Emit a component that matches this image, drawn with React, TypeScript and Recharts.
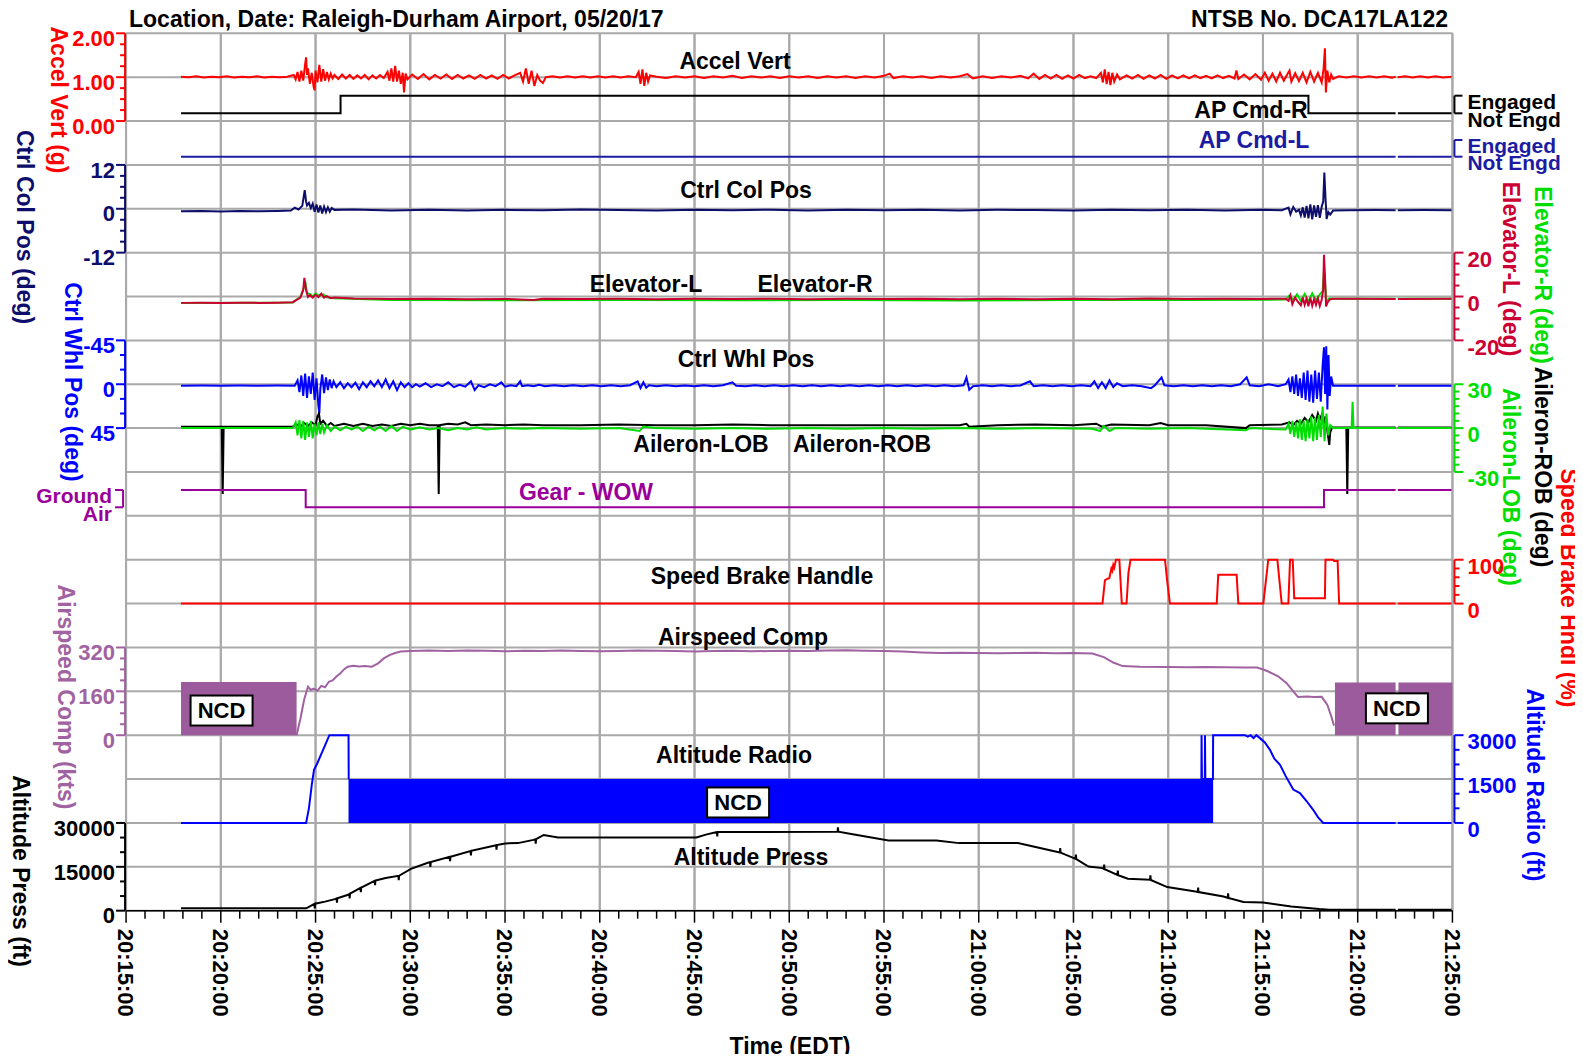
import React from "react";
import {
  ComposedChart,
  Line,
  XAxis,
  YAxis,
  CartesianGrid,
  ReferenceLine,
  ReferenceArea,
  ReferenceDot,
} from "recharts";

const FONT = '"Liberation Sans", Arial, Helvetica, sans-serif';
const ROWS = 20;
const TXT = 23;

const RED = "#ff0000";
const NAVY = "#0d0d6b";
const APL = "#1c1ca3";
const CRIMSON = "#cc0033";
const GREEN = "#00dd00";
const BLUE = "#0000ff";
const PURPLE = "#990099";
const MAUVE = "#a062a0";
const MAUVE_FILL = "#9c5b9c";

// time axis: minutes after 20:15:00 EDT
const timeLabels = [
  "20:15:00", "20:20:00", "20:25:00", "20:30:00", "20:35:00", "20:40:00", "20:45:00", "20:50:00",
  "20:55:00", "21:00:00", "21:05:00", "21:10:00", "21:15:00", "21:20:00", "21:25:00",
];

// [minute, value]
const accelVert = [
  [2.9, 1.01], [3.3, 1.0], [3.7, 1.02], [4.1, 0.99], [4.5, 1.01], [4.9, 1.0], [5.3, 1.02], [5.7, 0.99], [6.1, 1.01],
  [6.5, 1.0], [6.9, 1.02], [7.3, 0.99], [7.7, 1.01], [8.1, 1.0], [8.5, 1.01], [8.85, 1.05], [8.95, 0.95], [9.05, 1.12],
  [9.15, 0.9], [9.25, 1.15], [9.35, 0.92], [9.45, 1.3], [9.5, 1.45], [9.55, 1.05], [9.6, 1.2], [9.7, 0.85], [9.8, 1.1],
  [9.9, 0.78], [9.95, 0.7], [10.0, 1.15], [10.1, 0.88], [10.2, 1.28], [10.3, 0.9], [10.4, 1.18], [10.5, 0.92],
  [10.6, 1.12], [10.7, 0.95], [10.8, 1.08], [10.9, 0.97], [11.0, 1.05], [11.2, 0.96], [11.4, 1.06], [11.6, 0.97],
  [11.8, 1.05], [12.0, 0.96], [12.2, 1.04], [12.4, 0.97], [12.6, 1.05], [12.8, 0.95], [13.0, 1.04], [13.2, 0.97],
  [13.4, 1.05], [13.6, 0.98], [13.8, 1.12], [13.9, 0.92], [14.0, 1.2], [14.1, 0.9], [14.2, 1.26], [14.3, 0.9],
  [14.4, 1.15], [14.5, 0.85], [14.6, 1.1], [14.67, 0.65], [14.75, 1.08], [14.85, 0.95], [15.1, 1.06], [15.4, 0.96],
  [15.7, 1.07], [16.0, 0.95], [16.3, 1.05], [16.6, 0.97], [16.9, 1.06], [17.2, 0.96], [17.5, 1.05], [17.8, 0.97],
  [18.1, 1.04], [18.4, 0.96], [18.7, 1.05], [19.0, 0.97], [19.3, 1.04], [19.6, 0.96], [19.9, 1.05], [20.2, 0.97],
  [20.5, 1.04], [20.8, 1.1], [20.95, 0.9], [21.1, 1.2], [21.25, 0.85], [21.4, 1.15], [21.55, 0.8], [21.7, 1.05],
  [21.85, 0.92], [22.0, 0.87], [22.15, 1.0], [22.5, 1.02], [22.9, 0.99], [23.3, 1.02], [23.7, 0.99], [24.1, 1.02],
  [24.5, 0.99], [24.9, 1.02], [25.3, 0.99], [25.7, 1.02], [26.1, 0.99], [26.5, 1.02], [26.9, 1.0], [27.05, 1.12],
  [27.15, 0.85], [27.25, 1.18], [27.35, 0.8], [27.45, 1.1], [27.55, 0.9], [27.65, 1.04], [28.0, 1.01], [28.5, 0.98],
  [29.0, 1.02], [29.5, 0.99], [30.0, 1.02], [30.5, 0.98], [31.0, 1.02], [31.5, 0.99], [32.0, 1.03], [32.5, 0.98],
  [33.0, 1.02], [33.5, 0.99], [34.0, 1.02], [34.5, 0.98], [35.0, 1.02], [35.5, 0.99], [36.0, 1.02], [36.5, 0.98],
  [37.0, 1.02], [37.5, 0.99], [38.0, 1.02], [38.5, 0.98], [39.0, 1.02], [39.5, 0.99], [40.0, 1.03], [40.3, 1.08],
  [40.5, 0.98], [41.0, 1.02], [41.5, 0.99], [42.0, 1.02], [42.5, 0.98], [43.0, 1.02], [43.5, 0.99], [44.0, 1.02],
  [44.4, 1.07], [44.7, 0.97], [45.2, 1.02], [45.7, 0.98], [46.2, 1.02], [46.7, 0.99], [47.2, 1.03], [47.6, 0.97],
  [47.9, 1.08], [48.2, 0.96], [48.5, 1.05], [48.8, 0.97], [49.1, 1.05], [49.4, 0.96], [49.7, 1.04], [50.0, 0.97],
  [50.3, 1.05], [50.6, 0.98], [50.9, 1.02], [51.2, 0.98], [51.45, 1.1], [51.55, 0.88], [51.65, 1.18], [51.75, 0.84],
  [51.85, 1.12], [51.95, 0.82], [52.05, 1.1], [52.15, 0.9], [52.3, 1.06], [52.45, 0.95], [52.8, 1.04], [53.1, 0.97],
  [53.4, 1.05], [53.7, 0.96], [54.0, 1.04], [54.3, 0.97], [54.6, 1.05], [54.9, 0.96], [55.2, 1.04], [55.5, 0.97],
  [55.8, 1.04], [56.1, 0.97], [56.4, 1.04], [56.7, 0.98], [57.0, 1.03], [57.3, 0.97], [57.6, 1.04], [57.9, 0.98],
  [58.2, 1.03], [58.5, 0.97], [58.6, 1.15], [58.7, 0.96], [59.0, 1.06], [59.3, 0.95], [59.6, 1.07], [59.9, 0.94],
  [60.1, 1.1], [60.3, 0.92], [60.5, 1.08], [60.7, 0.9], [60.9, 1.1], [61.1, 0.92], [61.3, 1.08], [61.4, 1.15],
  [61.5, 0.9], [61.7, 1.09], [61.9, 0.91], [62.1, 1.1], [62.3, 0.88], [62.5, 1.12], [62.7, 0.9], [62.9, 1.1],
  [63.1, 0.88], [63.2, 1.2], [63.27, 1.66], [63.32, 0.65], [63.4, 1.15], [63.5, 0.88], [63.6, 1.06], [63.7, 0.96],
  [64.0, 1.02], [64.4, 0.99], [64.8, 1.02], [65.2, 0.99], [65.6, 1.02], [66.0, 0.99], [66.4, 1.02], [66.8, 0.99],
  [67.0, 1.01], [67.05, null], [67.12, 1.0], [67.5, 1.02], [67.9, 0.99], [68.3, 1.02], [68.7, 0.99], [69.1, 1.02],
  [69.5, 0.99], [69.95, 1.01],
];

// 1 = Engaged, 0 = Not Engd
const apCmdR = [[2.9, 0], [11.32, 1], [62.4, 0], [67.0, 0], [67.05, null], [67.12, 0], [69.95, 0]];
const apCmdL = [[2.9, 0], [67.0, 0], [67.05, null], [67.12, 0], [69.95, 0]];

const ctrlColPos = [
  [2.9, -0.7], [4, -0.6], [5, -0.75], [6, -0.6], [7, -0.7], [8, -0.6], [8.7, -0.5], [8.9, 0.3], [9.1, -0.2], [9.3, 0.8],
  [9.38, 3.5], [9.43, 5.1], [9.5, 2.0], [9.55, 0.9], [9.65, 1.6], [9.75, 0.2], [9.85, 1.4], [9.95, -0.8], [10.05, 1.2],
  [10.15, -1.0], [10.25, 0.9], [10.35, -1.3], [10.45, 0.6], [10.55, -0.9], [10.65, 0.4], [10.75, -0.8], [10.85, 0.2],
  [11.0, -0.3], [12, -0.2], [14, -0.45], [16, -0.3], [18, -0.5], [20, -0.3], [22, -0.4], [24, -0.2], [26, -0.35],
  [28, -0.5], [30, -0.3], [32, -0.4], [34, -0.25], [36, -0.45], [38, -0.3], [40, -0.4], [42, -0.3], [44, -0.45],
  [46, -0.3], [48, -0.35], [50, -0.45], [52, -0.3], [54, -0.4], [56, -0.3], [58, -0.45], [60, -0.3], [61.0, -0.4],
  [61.35, 0.3], [61.45, -1.5], [61.6, 0.5], [61.75, -0.8], [61.9, -0.3], [62.0, -1.8], [62.1, 0.4], [62.2, -2.4],
  [62.3, 0.8], [62.4, -2.6], [62.5, 1.2], [62.6, -2.9], [62.7, 0.9], [62.8, -2.2], [62.9, 1.0], [63.0, -2.5],
  [63.1, 0.6], [63.18, 2.0], [63.24, 9.9], [63.3, 3.0], [63.36, -2.8], [63.45, -0.9], [63.55, -1.6], [63.7, -0.5],
  [64.5, -0.4], [66, -0.35], [67.0, -0.4], [67.05, null], [67.12, -0.4], [68.5, -0.35], [69.95, -0.4],
];

const elevatorL = [
  [2.9, -2.9], [4, -2.8], [5, -2.9], [6, -2.8], [7, -2.9], [8, -2.8], [8.8, -2.6], [9.0, -1.5], [9.2, -0.5],
  [9.35, 3.0], [9.41, 8.5], [9.5, 3.0], [9.6, -0.2], [9.7, 0.6], [9.85, -0.5], [10.0, 0.8], [10.15, -0.3], [10.3, 1.3],
  [10.45, -0.5], [10.6, 0.2], [10.8, -0.8], [11.0, -0.5], [12, -0.9], [14, -1.1], [16, -1.0], [18, -1.3], [20, -1.1],
  [21.5, -1.6], [22, -1.0], [24, -1.1], [26, -1.0], [28, -1.2], [30, -1.0], [32, -1.1], [34, -1.0], [36, -1.2],
  [38, -1.0], [40, -1.1], [42, -1.0], [44, -1.3], [46, -1.0], [48, -1.2], [50, -1.0], [52, -1.2], [54, -0.9],
  [56, -1.1], [58, -1.0], [60, -1.1], [61.2, -1.0], [61.35, -2.0], [61.45, 0.5], [61.55, -3.5], [61.7, -0.5],
  [61.85, -2.5], [62.0, -4.0], [62.1, -0.5], [62.2, -3.8], [62.3, -1.0], [62.4, -4.5], [62.5, -0.5], [62.6, -4.2],
  [62.7, -1.2], [62.8, -3.8], [62.9, -0.8], [63.0, -4.3], [63.1, -1.5], [63.18, 3.0], [63.22, 19], [63.27, 10],
  [63.33, -4.5], [63.42, -2.5], [63.55, -1.2], [63.7, -1.0], [65, -1.0], [67.0, -1.1], [67.05, null], [67.12, -1.1],
  [69.95, -1.0],
];

const elevatorR = [
  [2.9, -3.0], [8.8, -2.7], [9.0, -1.4], [9.2, -0.3], [9.38, 4.0], [9.45, 7.0], [9.55, 1.5], [9.7, 1.2], [9.85, 0.0],
  [10.0, 1.4], [10.2, 0.3], [10.4, 1.0], [10.6, -0.3], [11, -0.8], [14, -1.6], [20, -1.7], [26, -1.6], [32, -1.7],
  [38, -1.6], [44, -1.8], [50, -1.6], [56, -1.6], [61.2, -1.4], [61.4, 0.5], [61.6, -1.5], [61.8, 1.0], [62.0, -2.0],
  [62.2, 1.2], [62.4, -2.5], [62.6, 1.5], [62.8, -1.8], [63.0, 1.0], [63.15, 2.5], [63.22, 12], [63.28, 6],
  [63.34, -2], [63.5, -0.9], [63.7, -1.0], [67.0, -1.0], [67.05, null], [67.12, -1.0], [69.95, -1.0],
];

const ctrlWhlPos = [
  [2.9, 1.5], [4, 1.4], [5, 1.6], [6, 1.4], [7, 1.5], [8, 1.4], [8.9, 1.5], [9.05, -4], [9.15, 8], [9.25, -9],
  [9.35, 12], [9.45, -11], [9.55, 14], [9.65, -8], [9.75, 10], [9.85, -12], [9.95, 16], [10.05, -6], [10.15, 22],
  [10.2, 29.7], [10.25, 5], [10.35, -10], [10.45, 9], [10.55, -7], [10.65, 6], [10.75, -5], [10.85, 4], [10.95, -3],
  [11.1, 3], [11.3, -2], [11.5, 4], [11.7, -1], [11.9, 3], [12.1, -1.5], [12.3, 5], [12.5, -2], [12.7, 3], [12.9, -3],
  [13.1, 2], [13.3, -4], [13.5, 3], [13.7, -5], [13.9, 4], [14.1, -3], [14.3, 6], [14.5, -2], [14.7, 3], [14.9, -1],
  [15.1, 3], [15.3, 0], [15.5, 2.5], [15.8, -1], [16.1, 3], [16.4, 0], [16.7, 2], [17.0, -2], [17.3, 3], [17.6, 0.5],
  [17.9, 2.5], [18.2, -3], [18.4, 6], [18.6, 1], [18.9, 3], [19.2, 0], [19.5, 2], [19.8, -2], [20.0, 2.5], [20.3, 1],
  [20.6, 2], [20.8, -3], [20.9, 2], [21.2, 1], [21.5, 2], [21.8, 0.5], [22.1, 2], [22.6, 1], [23.1, 2], [23.6, 1],
  [24.1, 2], [24.6, 1], [25.1, 2], [25.6, 1], [26.1, 2], [26.6, 1], [27.0, -3], [27.15, 4], [27.3, -2], [27.45, 3.5],
  [27.6, 1], [28.0, 2], [28.5, 1], [29.0, 2], [29.5, 1.2], [30.0, 2], [30.5, 1], [31.0, 2], [31.5, 1], [32.0, -2],
  [32.2, 1.5], [32.7, 2], [33.2, 1], [33.7, 2], [34.2, 1], [34.7, 2], [35.2, 1], [35.7, 2], [36.2, 1], [36.7, 2],
  [37.2, 1], [37.7, 2], [38.2, 1], [38.7, 2], [39.2, 1], [39.7, 2], [40.2, 1], [40.7, 2], [41.2, 1], [41.7, 2],
  [42.2, 1], [42.7, 2], [43.2, 1], [43.7, 2], [44.2, 1], [44.35, -7], [44.5, 5.7], [44.7, 2], [45.2, 1], [45.7, 2],
  [46.2, 1], [46.7, 2], [47.2, 1.2], [47.7, -3], [47.9, 2], [48.4, 1], [48.9, 2], [49.4, 1], [49.9, 2], [50.4, 1],
  [50.9, 2], [51.1, -3], [51.3, 4], [51.5, -2], [51.7, 4], [51.9, -4], [52.1, 3], [52.3, -1], [52.6, 2], [53.1, 1],
  [53.6, 2], [54.1, 4], [54.3, 1], [54.65, -7], [54.8, 1], [55.3, 2], [55.8, 1], [56.3, 2], [56.8, 1], [57.3, 2],
  [57.8, 1], [58.3, 2], [58.8, 0], [59.14, -7], [59.3, 1], [59.8, 2], [60.3, 0], [60.8, 2], [61.2, 0], [61.35, -5],
  [61.45, 8], [61.55, -8], [61.65, 10], [61.75, -10], [61.85, 12], [61.95, -6], [62.05, 14], [62.15, -12], [62.25, 16],
  [62.35, -14], [62.45, 18], [62.55, -10], [62.65, 19], [62.75, -14], [62.85, 15], [62.95, -12], [63.05, 18],
  [63.15, -20], [63.22, -38], [63.28, 10], [63.34, -39], [63.4, 26], [63.46, -30], [63.52, 12], [63.6, -8],
  [63.7, 1.5], [65, 1.5], [67.0, 1.5], [67.05, null], [67.12, 1.5], [69.95, 1.5],
];

const aileronROB = [
  [2.9, 1.0], [5.05, 1.0], [5.1, -45], [5.15, 1.0], [8.8, 1.0], [9.0, 2.5], [9.2, 1.0], [9.4, 3.5], [9.6, 1.5],
  [9.8, 4], [10.0, 2], [10.1, 8], [10.18, 10], [10.25, 3], [10.4, 5], [10.6, 1.5], [10.8, 3.5], [11.0, 1.5], [11.5, 3],
  [12, 1.5], [12.5, 3], [13, 1.5], [13.5, 2.5], [14, 1.5], [14.5, 3], [15, 2], [15.5, 3], [16, 2], [16.45, 2],
  [16.5, -45], [16.55, 2], [17, 3], [17.5, 2.5], [17.9, 4], [18.2, 2], [19, 2.5], [20, 2], [21, 2.5], [22, 2], [24, 2],
  [26, 2.5], [28, 2], [30, 2], [32, 2.5], [34, 2], [36, 2], [38, 2], [40, 2], [42, 2], [44, 2], [44.35, 3], [44.5, 1],
  [46, 2], [48, 2.5], [50, 2], [51.2, 3], [51.5, 1], [52, 2.5], [54, 2], [54.6, 3.5], [55, 2], [57, 2], [59.1, 0],
  [59.3, 2], [61, 2.5], [61.4, 4], [61.6, 2], [61.8, 5], [62.0, 3], [62.2, 7], [62.4, 4], [62.6, 9], [62.8, 5],
  [62.9, 10], [63.0, 6], [63.1, 9], [63.2, 3], [63.3, 8], [63.4, -2], [63.5, -11.5], [63.55, -3], [63.65, 0.5],
  [64.4, 0.5], [64.45, -45], [64.5, 0.5], [67.0, 0.5], [67.05, null], [67.12, 0.5], [69.95, 0.5],
];

const aileronLOB = [
  [2.9, 0], [8.8, 0], [8.95, 4], [9.05, -5], [9.15, 5.5], [9.25, -7], [9.35, 5], [9.45, -8], [9.55, 4], [9.65, -6],
  [9.75, 5], [9.85, -7], [9.95, 3], [10.05, -5], [10.15, 4], [10.25, -4], [10.35, 3], [10.45, -3], [10.6, 2],
  [10.8, -2], [11.0, 1], [11.3, -1.5], [11.6, 1], [11.9, -1], [12.2, 1], [12.5, -2], [12.8, 1], [13.1, -1.5], [13.4, 1],
  [13.7, -2], [14.0, 1.5], [14.3, -2], [14.6, 1], [15, -1], [15.5, 0.5], [16, -1], [16.5, 0], [17, -1.5], [17.5, 0],
  [18, -1], [18.5, 0.5], [19, -1], [20, 0], [21, -0.5], [22, 0], [24, -0.5], [26, 0], [27.1, -2], [27.3, 1], [28, 0],
  [30, -0.5], [32, 0], [34, -0.5], [36, 0], [38, -0.5], [40, 0], [42, -0.5], [44, 0], [46, -0.5], [48, 0], [51, -0.5],
  [51.4, -2], [51.6, 1.5], [51.9, -2], [52.2, 0], [54, -0.5], [56, 0], [59.1, -1.5], [59.3, 0], [61.2, -1],
  [61.35, 3], [61.45, -4], [61.55, 5], [61.65, -6], [61.75, 4], [61.85, -7], [61.95, 6], [62.05, -8], [62.15, 5],
  [62.25, -9], [62.35, 6], [62.45, -7], [62.55, 8], [62.65, -9], [62.75, 7], [62.85, -8], [62.95, 9], [63.05, -6],
  [63.15, 14.7], [63.25, -9], [63.35, 10], [63.45, -5], [63.55, 2], [63.7, 0], [64.68, 0], [64.73, 18], [64.78, 0],
  [67.0, 0], [67.05, null], [67.12, 0], [69.95, 0],
];

// 1 = Ground, 0 = Air
const gearWow = [[2.9, 1], [9.48, 0], [63.22, 1], [67.0, 1], [67.05, null], [67.12, 1], [69.95, 1]];

const speedBrake = [
  [2.9, 0], [51.53, 0], [51.66, 53], [51.75, 56], [51.89, 58], [52.0, 80], [52.05, 75], [52.1, 88], [52.15, 82],
  [52.24, 100], [52.42, 100], [52.55, 0], [52.8, 0], [52.9, 70], [53.01, 100], [54.83, 100], [54.95, 50], [55.09, 0],
  [57.56, 0], [57.64, 66], [58.61, 66], [58.7, 0], [60.02, 0], [60.28, 100], [60.76, 100], [60.99, 0], [61.34, 0],
  [61.43, 100], [61.57, 100], [61.65, 12], [63.27, 12], [63.3, 100], [63.7, 100], [63.75, 97], [63.94, 97],
  [64.02, 0], [67.0, 0], [67.05, null], [67.12, 0], [69.95, 0],
];

const airspeed = [
  [9.0, 0], [9.2, 60], [9.4, 130], [9.6, 177], [9.75, 165], [9.9, 170], [10.1, 162], [10.3, 180], [10.5, 175],
  [10.7, 195], [10.9, 200], [11.1, 214], [11.3, 225], [11.5, 240], [11.7, 250], [12.0, 253], [12.3, 251], [12.6, 252],
  [12.97, 250], [13.3, 262], [13.6, 280], [13.9, 292], [14.2, 300], [14.5, 305], [15.0, 307], [16, 309], [17, 307],
  [18, 309], [19, 308], [20, 306], [21, 308], [22, 307], [23, 309], [24, 307], [25, 306], [26, 307], [27, 309],
  [28, 308], [29, 307], [30, 305], [31, 307], [32, 308], [33, 306], [34, 307], [35, 308], [36, 307], [37, 309],
  [38, 310], [39, 308], [40, 307], [41, 305], [42, 302], [43, 300], [44, 301], [45, 300], [46, 299], [47, 300],
  [48, 301], [49, 299], [50, 300], [51.0, 298], [51.6, 285], [52.1, 265], [52.6, 252], [53.5, 250], [55, 249],
  [56, 248], [57, 249], [58, 248], [59, 247], [59.7, 247], [60.2, 235], [60.8, 215], [61.25, 190], [61.6, 160],
  [61.85, 139], [62.3, 141], [62.7, 139], [63.1, 140], [63.4, 110], [63.6, 70], [63.75, 35],
];

const altRadio = [
  [2.9, 0], [9.5, 0], [9.65, 500], [9.8, 1300], [9.92, 1820], [10.1, 2050], [10.3, 2350], [10.5, 2650], [10.73, 3000],
  [11.74, 3000], [11.75, 1500], [11.76, null], [56.75, 1500], [56.76, 3000], [56.78, 1500], [56.93, 1500],
  [56.94, 3000], [56.96, 1500], [57.36, 1500], [57.37, 3000], [59.05, 3000], [59.2, 2950], [59.35, 3000],
  [59.5, 2900], [59.65, 3000], [59.84, 2900], [60.1, 2750], [60.37, 2500], [60.6, 2200], [60.9, 1990], [61.2, 1600],
  [61.6, 1140], [61.95, 1020], [62.3, 750], [62.65, 450], [62.9, 200], [63.18, 0], [67.0, 0], [67.05, null],
  [67.12, 0], [69.95, 0],
];

const altPress = [
  [2.9, 800], [9.5, 800], [9.6, 1100], [9.94, 2300], [9.96, 800], [9.98, 2400], [10.5, 3100], [11.02, 3960],
  [11.11, 4200], [11.13, 2700], [11.15, 4250], [11.72, 5430], [11.78, 5700], [11.8, 4200], [11.82, 5800],
  [12.37, 7800], [12.39, 6300], [12.41, 7900], [13.12, 10200], [13.14, 8700], [13.16, 10300], [13.7, 11200],
  [14.37, 11900], [14.39, 10400], [14.41, 11950], [15.03, 14300], [15.96, 16450], [16.04, 16550], [16.06, 15000],
  [16.08, 16600], [17.08, 18400], [17.1, 16900], [17.12, 18450], [18.18, 20400], [18.2, 18900], [18.22, 20450],
  [19.53, 22400], [19.55, 20900], [19.57, 22450], [20.0, 23000], [20.68, 23100], [21.5, 24200], [21.6, 24400],
  [21.62, 22900], [21.64, 24500], [22.04, 25900], [22.8, 25000], [30.1, 25000], [30.6, 26000], [31.18, 26900],
  [31.2, 25400], [31.22, 26900], [37.55, 27000], [37.57, 28500], [37.59, 27000], [38.5, 26000], [40.24, 24000],
  [42.77, 24000], [43.96, 23100], [47.07, 23100], [48.0, 21800], [49.28, 19900], [49.3, 21400], [49.32, 19850],
  [50.11, 17700], [50.13, 19200], [50.15, 17600], [50.79, 15100], [51.53, 14550], [51.6, 14300], [51.62, 15800],
  [51.64, 14200], [52.32, 12200], [52.34, 13700], [52.36, 12100], [52.87, 10900], [54.04, 10560], [54.06, 12060],
  [54.08, 10500], [54.95, 8060], [56.44, 6560], [56.56, 6400], [56.58, 7900], [56.6, 6350], [57.92, 4850],
  [58.14, 4400], [58.16, 5900], [58.18, 4350], [58.97, 2940], [60.0, 2800], [61.49, 1430], [62.97, 550],
  [63.5, 350], [67.0, 300], [67.05, null], [67.12, 300], [69.95, 300],
];

// NCD (no computed data) spans: [from, to, low, high]
const airspeedNcd = [[2.9, 9.0, 0, 194], [63.8, 67.0, 0, 192], [67.15, 70, 0, 192]];
const radioNcd = [[11.74, 57.37, 0, 1500]];
const ncdTags = [
  { t: 5.04, v: 90, axis: "spd" },
  { t: 67.07, v: 98, axis: "spd" },
  { t: 32.3, v: 700, axis: "rad" },
];

const toPts = (rows: any[]) => rows.map(([t, v]) => ({ t, v }));

function bandDomain(v0: number, r0: number, v1: number, r1: number) {
  const per = (v1 - v0) / (r1 - r0);
  const lo = v0 - r0 * per;
  const hi = v0 + (ROWS - r0) * per;
  return lo < hi ? { domain: [lo, hi], reversed: false } : { domain: [hi, lo], reversed: true };
}

type Ax = {
  id: string;
  side: "left" | "right";
  anchors: number[];
  majors: number[];
  step: number;
  color: string;
  fmt?: (v: number) => string;
  names?: string[];
  bracket?: boolean;
};

const axes: Ax[] = [
  { id: "acc", side: "left", anchors: [0, 18, 2, 20], majors: [0, 1, 2], step: 0.25, color: RED, fmt: (v) => v.toFixed(2) },
  { id: "col", side: "left", anchors: [-12, 15, 12, 17], majors: [-12, 0, 12], step: 3, color: NAVY },
  { id: "whl", side: "left", anchors: [45, 11, -45, 13], majors: [-45, 0, 45], step: 15, color: BLUE },
  { id: "wow", side: "left", anchors: [0, 9.195, 1, 9.59], majors: [0, 1], step: 1, color: PURPLE, names: ["Air", "Ground"], bracket: true },
  { id: "spd", side: "left", anchors: [0, 4, 320, 6], majors: [0, 160, 320], step: 40, color: MAUVE },
  { id: "alt", side: "left", anchors: [0, 0, 30000, 2], majors: [0, 15000, 30000], step: 5000, color: "#000" },
  { id: "apr", side: "right", anchors: [0, 18.176, 1, 18.578], majors: [0, 1], step: 1, color: "#000", names: ["Not Engd", "Engaged"], bracket: true },
  { id: "apl", side: "right", anchors: [0, 17.187, 1, 17.568], majors: [0, 1], step: 1, color: APL, names: ["Not Engd", "Engaged"], bracket: true },
  { id: "elev", side: "right", anchors: [-20, 13, 20, 15], majors: [-20, 0, 20], step: 5, color: CRIMSON },
  { id: "ail", side: "right", anchors: [-30, 10, 30, 12], majors: [-30, 0, 30], step: 5, color: GREEN },
  { id: "sbh", side: "right", anchors: [0, 7, 100, 8], majors: [0, 100], step: 20, color: RED },
  { id: "rad", side: "right", anchors: [0, 2, 3000, 4], majors: [0, 1500, 3000], step: 500, color: BLUE },
];

const series = [
  { data: accelVert, axis: "acc", color: RED, w: 2, type: "linear" },
  { data: apCmdR, axis: "apr", color: "#000", w: 2, type: "stepAfter" },
  { data: apCmdL, axis: "apl", color: APL, w: 2, type: "stepAfter" },
  { data: ctrlColPos, axis: "col", color: NAVY, w: 2, type: "linear" },
  { data: elevatorR, axis: "elev", color: GREEN, w: 2, type: "linear" },
  { data: elevatorL, axis: "elev", color: CRIMSON, w: 2, type: "linear" },
  { data: ctrlWhlPos, axis: "whl", color: BLUE, w: 2, type: "linear" },
  { data: aileronROB, axis: "ail", color: "#000", w: 2, type: "linear" },
  { data: aileronLOB, axis: "ail", color: GREEN, w: 2, type: "linear" },
  { data: gearWow, axis: "wow", color: PURPLE, w: 2, type: "stepAfter" },
  { data: speedBrake, axis: "sbh", color: RED, w: 2, type: "linear" },
  { data: airspeed, axis: "spd", color: MAUVE, w: 2, type: "linear" },
  { data: altRadio, axis: "rad", color: BLUE, w: 2, type: "linear" },
  { data: altPress, axis: "alt", color: "#000", w: 2, type: "linear" },
];

const seriesLabels = [
  { text: "Accel Vert", x: 727, y: 53, color: "#000" },
  { text: "AP Cmd-R", x: 1243, y: 102, color: "#000" },
  { text: "AP Cmd-L", x: 1246, y: 132, color: APL },
  { text: "Ctrl Col Pos", x: 738, y: 182, color: "#000" },
  { text: "Elevator-L", x: 638, y: 276, color: "#000" },
  { text: "Elevator-R", x: 807, y: 276, color: "#000" },
  { text: "Ctrl Whl Pos", x: 738, y: 351, color: "#000" },
  { text: "Aileron-LOB", x: 693, y: 436, color: "#000" },
  { text: "Aileron-ROB", x: 854, y: 436, color: "#000" },
  { text: "Gear - WOW", x: 578, y: 484, color: PURPLE },
  { text: "Speed Brake Handle", x: 754, y: 568, color: "#000" },
  { text: "Airspeed Comp", x: 735, y: 629, color: "#000" },
  { text: "Altitude Radio", x: 726, y: 747, color: "#000" },
  { text: "Altitude Press", x: 743, y: 849, color: "#000" },
];

const axisTitles = [
  { text: "Accel Vert (g)", x: 51, y: 92, color: RED },
  { text: "Ctrl Col Pos (deg)", x: 17.5, y: 219, color: NAVY },
  { text: "Ctrl Whl Pos (deg)", x: 65, y: 374, color: BLUE },
  { text: "Airspeed Comp (kts)", x: 58, y: 689, color: MAUVE },
  { text: "Altitude Press (ft)", x: 13, y: 863, color: "#000" },
  { text: "Elevator-L (deg)", x: 1503, y: 261, color: CRIMSON },
  { text: "Elevator-R (deg)", x: 1535, y: 267, color: GREEN },
  { text: "Aileron-ROB (deg)", x: 1535, y: 459, color: "#000" },
  { text: "Aileron-LOB (deg)", x: 1503, y: 479, color: GREEN },
  { text: "Speed Brake Hndl (%)", x: 1561, y: 580, color: RED },
  { text: "Altitude Radio (ft)", x: 1527, y: 777, color: BLUE },
];

const minuteTicks = Array.from({ length: 71 }, (_, i) => i);
const fiveMinTicks = minuteTicks.filter((m) => m % 5 === 0);
const oneMinTicks = minuteTicks.filter((m) => m % 5 !== 0);
const rowTicks = Array.from({ length: ROWS + 1 }, (_, i) => i);

function axisTicks(ax: Ax) {
  const lo = Math.min(...ax.majors);
  const hi = Math.max(...ax.majors);
  const out: number[] = [];
  for (let v = lo; v <= hi + 1e-9; v += ax.step) out.push(Math.round(v * 1000) / 1000);
  return out;
}

function makeTick(ax: Ax) {
  const dir = ax.side === "left" ? -1 : 1;
  const base = ax.side === "left" ? (ax.bracket ? -3 : -1) : 2;
  return (p: any) => {
    const v = Number(p.payload.value);
    const major = ax.majors.some((m) => Math.abs(m - v) < 1e-9);
    const len = ax.bracket ? 8 : major ? 9 : 5;
    const x0 = p.x + base;
    const label = ax.names ? ax.names[v] : ax.fmt ? ax.fmt(v) : String(v);
    const gap = ax.side === "left" ? (ax.bracket ? 14 : 11) : 15;
    return (
      <g>
        <line x1={x0} y1={p.y} x2={x0 + dir * len} y2={p.y} stroke={ax.color} strokeWidth={2} />
        {major && (
          <text
            x={p.x + dir * gap}
            y={p.y + (ax.bracket ? 6 : ax.side === "left" ? 5 : 6.5)}
            dy="0.35em"
            textAnchor={ax.side === "left" ? "end" : "start"}
            fill={ax.color}
            fontSize={ax.bracket ? 21 : 22}
            fontWeight="bold"
            fontFamily={FONT}
          >
            {label}
          </text>
        )}
      </g>
    );
  };
}

const XTick = (p: any) => {
  const m = Number(p.payload.value);
  const major = m % 5 === 0;
  return (
    <g>
      <line x1={p.x} y1={p.y} x2={p.x} y2={p.y + (major ? 12 : 8)} stroke="#000" strokeWidth={1.5} />
      {major && (
        <text
          transform={`translate(${p.x},${p.y + 18}) rotate(90)`}
          dy="0.35em"
          textAnchor="start"
          fill="#000"
          fontSize={22}
          fontWeight="bold"
          fontFamily={FONT}
        >
          {timeLabels[m / 5]}
        </text>
      )}
    </g>
  );
};

// grid-only axes draw no ticks of their own
const NoTick = () => <g />;

const NcdTag = (p: any) => (
  <g>
    <rect x={p.cx - 31} y={p.cy - 15} width={62} height={30} fill="#fff" stroke="#000" strokeWidth={2} />
    <text x={p.cx} y={p.cy} dy="0.35em" textAnchor="middle" fontSize={22} fontWeight="bold" fontFamily={FONT} fill="#000">
      NCD
    </text>
  </g>
);

export default function App() {
  return (
    <div style={{ fontFamily: FONT }}>
      <style>{`.recharts-surface{overflow:visible}`}</style>
      <ComposedChart width={1575} height={1046} margin={{ top: 25.3, right: 130.5, bottom: 143.3, left: 118 }}>
        <XAxis
          xAxisId="t"
          type="number"
          dataKey="t"
          domain={[0, 70]}
          ticks={minuteTicks}
          interval={0}
          height={0.01}
          tickSize={0}
          tickMargin={0}
          tickLine={false}
          axisLine={{ stroke: "#000", strokeWidth: 1.5 }}
          tick={XTick}
          allowDataOverflow
        />
        <XAxis
          xAxisId="min"
          type="number"
          domain={[0, 70]}
          ticks={oneMinTicks}
          interval={0}
          height={0.01}
          tick={NoTick}
          tickLine={false}
          axisLine={false}
          allowDataOverflow
        />
        <YAxis
          yAxisId="rows"
          type="number"
          domain={[0, ROWS]}
          ticks={rowTicks}
          interval={0}
          width={0.01}
          tick={NoTick}
          tickLine={false}
          axisLine={false}
          allowDataOverflow
        />
        {axes.map((ax) => {
          const b = bandDomain(ax.anchors[0], ax.anchors[1], ax.anchors[2], ax.anchors[3]);
          return (
            <YAxis
              key={ax.id}
              yAxisId={ax.id}
              orientation={ax.side}
              type="number"
              domain={b.domain}
              reversed={b.reversed}
              ticks={axisTicks(ax)}
              interval={0}
              width={0.01}
              tickSize={0}
              tickMargin={0}
              tickLine={false}
              axisLine={false}
              tick={makeTick(ax)}
              allowDataOverflow
            />
          );
        })}
        <CartesianGrid xAxisId="min" yAxisId="rows" horizontal={false} stroke="#dddddd" strokeWidth={1.5} />
        <CartesianGrid
          xAxisId="t"
          yAxisId="rows"
          horizontal={false}
          verticalValues={fiveMinTicks}
          stroke="#a9a9a9"
          strokeWidth={2}
        />
        <CartesianGrid xAxisId="min" yAxisId="rows" vertical={false} stroke="#a9a9a9" strokeWidth={2} />
        {fiveMinTicks.map((m) => (
          <ReferenceLine
            key={"v" + m}
            xAxisId="t"
            yAxisId="rows"
            x={m}
            stroke="#a9a9a9"
            strokeWidth={2}
            ifOverflow="visible"
            {...({ zIndex: -90 } as any)}
          />
        ))}

        {airspeedNcd.map(([a, b, lo, hi], i) => (
          <ReferenceArea key={"sn" + i} xAxisId="t" yAxisId="spd" x1={a} x2={b} y1={lo} y2={hi} fill={MAUVE_FILL} fillOpacity={1} stroke="none" />
        ))}
        {radioNcd.map(([a, b, lo, hi], i) => (
          <ReferenceArea key={"rn" + i} xAxisId="t" yAxisId="rad" x1={a} x2={b} y1={lo} y2={hi} fill={BLUE} fillOpacity={1} stroke="none" />
        ))}

        {series.map((s, i) => (
          <Line
            key={i}
            xAxisId="t"
            yAxisId={s.axis}
            data={toPts(s.data)}
            dataKey="v"
            type={s.type as any}
            stroke={s.color}
            strokeWidth={s.w}
            dot={false}
            activeDot={false}
            isAnimationActive={false}
          />
        ))}

        {axes.map((ax) => {
          const off = ax.side === "left" ? (ax.bracket ? -3 : -1) : 2;
          const xs = ax.side === "left" ? 0 : 70;
          return (
            <ReferenceLine
              key={"seg" + ax.id}
              xAxisId="t"
              yAxisId={ax.id}
              segment={[
                { x: xs, y: Math.min(...ax.majors) },
                { x: xs, y: Math.max(...ax.majors) },
              ]}
              ifOverflow="visible"
              shape={(p: any) => (
                <line x1={p.x1 + off} y1={p.y1} x2={p.x2 + off} y2={p.y2} stroke={ax.color} strokeWidth={2} />
              )}
            />
          );
        })}

        {ncdTags.map((n, i) => (
          <ReferenceDot key={"tag" + i} xAxisId="t" yAxisId={n.axis} x={n.t} y={n.v} r={0} shape={NcdTag} ifOverflow="visible" />
        ))}

        <g>
          <text x={121} y={18.7} fontSize={TXT} fontWeight="bold" fontFamily={FONT} fill="#000">
            Location, Date: Raleigh-Durham Airport, 05/20/17
          </text>
          <text x={1440} y={18.7} textAnchor="end" fontSize={TXT} fontWeight="bold" fontFamily={FONT} fill="#000">
            NTSB No. DCA17LA122
          </text>
          {seriesLabels.map((l) => (
            <text key={l.text} x={l.x} y={l.y} dy="0.35em" textAnchor="middle" fontSize={TXT} fontWeight="bold" fontFamily={FONT} fill={l.color}>
              {l.text}
            </text>
          ))}
          {axisTitles.map((a) => (
            <text
              key={a.text}
              x={a.x}
              y={a.y}
              transform={`rotate(90 ${a.x} ${a.y})`}
              dy="0.35em"
              textAnchor="middle"
              fontSize={TXT}
              fontWeight="bold"
              fontFamily={FONT}
              fill={a.color}
            >
              {a.text}
            </text>
          ))}
          <text x={782} y={1038} dy="0.35em" textAnchor="middle" fontSize={TXT} fontWeight="bold" fontFamily={FONT} fill="#000">
            Time (EDT)
          </text>
        </g>
      </ComposedChart>
    </div>
  );
}
